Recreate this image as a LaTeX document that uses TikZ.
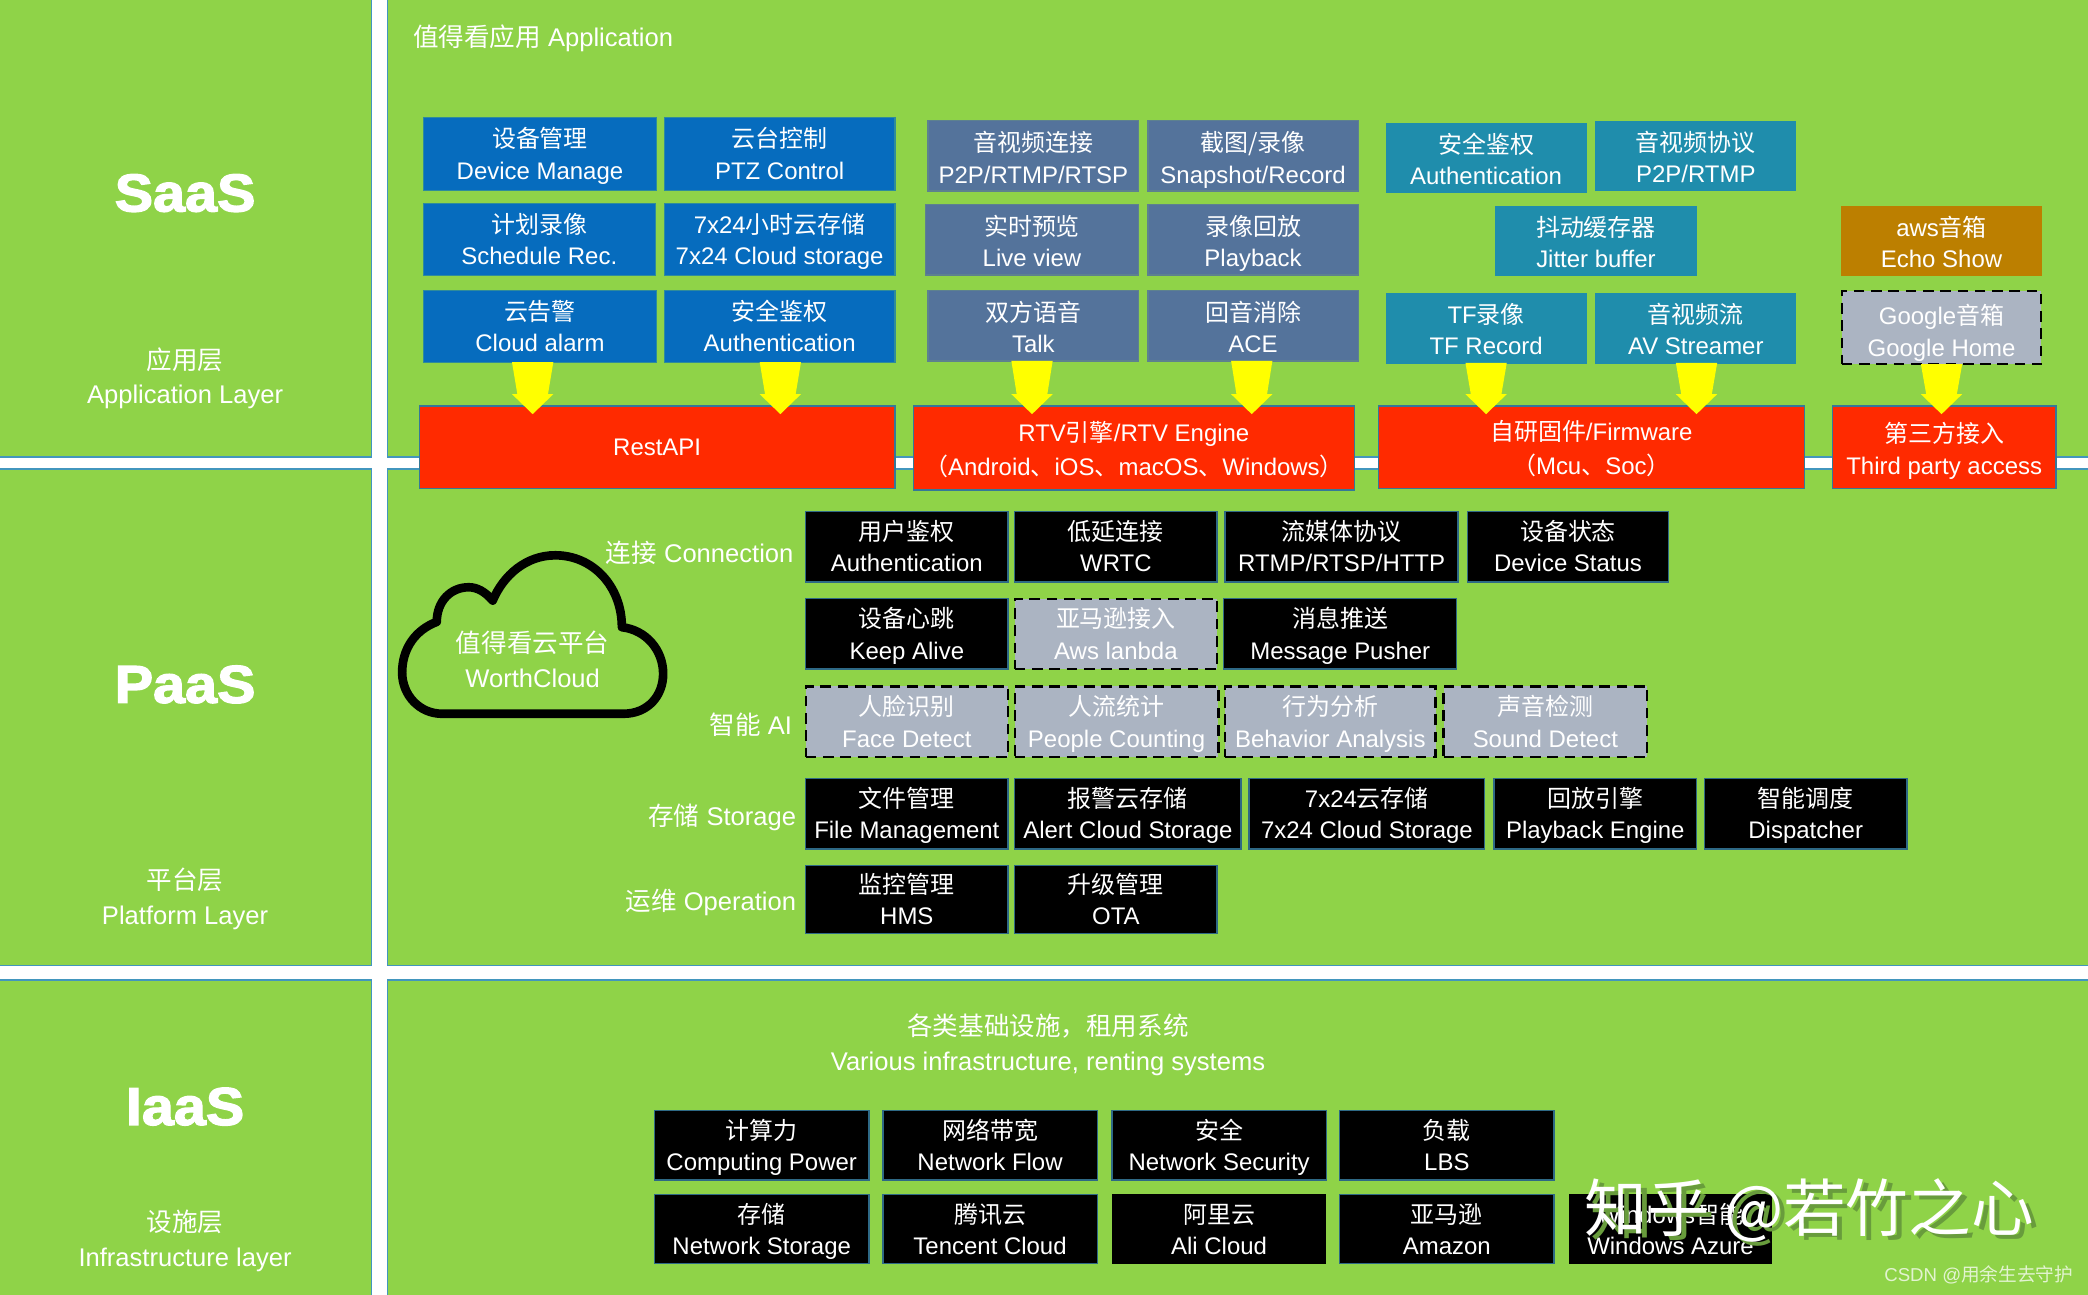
\documentclass[tikz,border=0pt]{standalone}
\usepackage{fontspec}
\setmainfont{Liberation Sans}
\newfontfamily\cjk{Noto Sans CJK SC}
\newfontfamily\heavyfont[UprightFont=* Bold,FakeBold=2.5,FakeStretch=1.08]{Liberation Sans}
\usetikzlibrary{calc}
\definecolor{panelgreen}{RGB}{143,211,72}
\definecolor{panelline}{RGB}{66,150,190}
\definecolor{tileblue}{RGB}{6,108,190}
\definecolor{tileslate}{RGB}{84,115,155}
\definecolor{tileteal}{RGB}{31,141,172}
\definecolor{tileorange}{RGB}{188,127,0}
\definecolor{tilegrey}{RGB}{171,180,194}
\definecolor{tilered}{RGB}{255,42,0}
\definecolor{flowyellow}{RGB}{255,255,0}
\definecolor{markshadow}{RGB}{104,156,60}
\begin{document}
\begin{tikzpicture}[x=1pt,y=-1pt,
panel/.style={fill=panelgreen,draw=panelline,line width=1.2pt},
tile size/.style 2 args={minimum width=#1pt,minimum height=#2pt},
tile node/.style={inner sep=0pt,outer sep=0pt,align=center,text=white,line width=1pt,font=\fontsize{18}{23.5}\selectfont,text height=44pt,text depth=6pt},
blue node/.style={tile node,fill=tileblue,draw=tileblue!70!panelgreen},
slate node/.style={tile node,fill=tileslate,draw=tileslate!85!panelgreen,text height=47pt},
teal node/.style={tile node,fill=tileteal,draw=tileteal,text height=46pt},
orange node/.style={tile node,fill=tileorange,draw=tileorange,text height=46pt},
red node/.style={tile node,fill=tilered,draw=panelline!80!black,font=\fontsize{18}{25.5}\selectfont,text height=47pt,text depth=6pt},
black node/.style={tile node,fill=black,draw=panelline!70!black},
plain node/.style={tile node,fill=black},
dash node/.style={tile node,fill=tilegrey,draw=black,line width=1.6pt,dash pattern=on 8pt off 5pt},
caption node/.style={inner sep=0pt,text=white,align=center,font=\fontsize{19.2}{26}\selectfont},
layer node/.style={inner sep=0pt,text=white,font=\fontsize{40}{44}\selectfont\heavyfont},
flow/.style={draw=none,fill=flowyellow,to path={($(\tikztostart)+(-15.5,0)$) -- ($(\tikztostart)+(15.5,0)$) -- ($(\tikztotarget)+(11.5,-15)$) -- ($(\tikztotarget)+(15.5,-15)$) -- (\tikztotarget) -- ($(\tikztotarget)+(-15.5,-15)$) -- ($(\tikztotarget)+(-11.5,-15)$) -- cycle}}]
\clip (0,0) rectangle (1568,972);
\fill[white] (0,0) rectangle (1568,972);
\draw[panel] (-5,-5) rectangle (279,343);
\draw[panel] (-5,352) rectangle (279,725);
\draw[panel] (-5,736) rectangle (279,980);
\draw[panel] (291,-5) rectangle (1575,343);
\draw[panel] (291,352) rectangle (1575,725);
\draw[panel] (291,736) rectangle (1575,980);

\node[layer node] (saas) at (139,145) {SaaS};
\node[layer node] (paas) at (139,514) {PaaS};
\node[layer node] (iaas) at (139,831) {IaaS};
\node[caption node] (saasname) at (139,284) {{\cjk 应用层}\\Application Layer};
\node[caption node] (paasname) at (139,675) {{\cjk 平台层}\\Platform Layer};
\node[caption node] (iaasname) at (139,932) {{\cjk 设施层}\\Infrastructure layer};

\node[caption node,anchor=west] (apptitle) at (310,29) {{\cjk 值得看应用} Application};
\node[caption node,anchor=east] (connlabel) at (596,415.5) {{\cjk 连接} Connection};
\node[caption node,anchor=east] (ailabel) at (595,544) {{\cjk 智能} AI};
\node[caption node,anchor=east] (storelabel) at (598,614) {{\cjk 存储} Storage};
\node[caption node,anchor=east] (oplabel) at (598,678) {{\cjk 运维} Operation};
\node[caption node] (infratitle) at (787,784.5) {{\cjk 各类基础设施，租用系统}\\Various infrastructure, renting systems};

\begin{scope}[every node/.append style={tile size={175}{55}}]
\node[blue node] (device) at (405.5,115.5) {{\cjk 设备管理}\\Device Manage};
\node[blue node,tile size={173}{55}] (ptz) at (585.5,115.5) {{\cjk 云台控制}\\PTZ Control};
\node[blue node,tile size={174}{54}] (plan) at (405,180) {{\cjk 计划录像}\\Schedule Rec.};
\node[blue node,tile size={173}{54}] (cloudstore) at (585.5,180) {7x24{\cjk 小时云存储}\\7x24 Cloud storage};
\node[blue node,tile size={175}{54}] (alarm) at (405.5,245) {{\cjk 云告警}\\Cloud alarm};
\node[blue node,tile size={173}{54}] (appauth) at (585.5,245) {{\cjk 安全鉴权}\\Authentication};
\end{scope}

\begin{scope}[every node/.append style={tile size={158}{52}}]
\node[slate node] (avconn) at (776,117) {{\cjk 音视频连接}\\P2P/RTMP/RTSP};
\node[slate node] (snap) at (941,117) {{\cjk 截图/录像}\\Snapshot/Record};
\node[slate node,tile size={160}{52}] (live) at (775,180) {{\cjk 实时预览}\\Live view};
\node[slate node] (playback) at (941,180) {{\cjk 录像回放}\\Playback};
\node[slate node] (talk) at (776,244.5) {{\cjk 双方语音}\\Talk};
\node[slate node] (ace) at (941,244.5) {{\cjk 回音消除}\\ACE};
\end{scope}

\begin{scope}[every node/.append style={tile size={150}{52}}]
\node[teal node] (fwauth) at (1116,118.5) {{\cjk 安全鉴权}\\Authentication};
\node[teal node] (proto) at (1273.5,117) {{\cjk 音视频协议}\\P2P/RTMP};
\node[teal node] (jitter) at (1198.5,181) {{\cjk 抖动缓存器}\\Jitter buffer};
\node[teal node] (tfcard) at (1116,246.5) {TF{\cjk 录像}\\TF Record};
\node[teal node] (avstream) at (1273.5,246.5) {{\cjk 音视频流}\\AV Streamer};
\node[orange node] (echo) at (1458,181) {aws{\cjk 音箱}\\Echo Show};
\node[dash node,text height=49pt] (ghome) at (1458,246) {Google{\cjk 音箱}\\Google Home};
\end{scope}

\node[red node,tile size={357}{62},text height=12pt,text depth=0pt] (rest) at (493.5,336) {RestAPI};
\node[red node,tile size={331}{63}] (rtv) at (851.5,336.5) {RTV{\cjk 引擎}/RTV Engine\\{\cjk （}Android{\cjk 、}iOS{\cjk 、}macOS{\cjk 、}Windows{\cjk ）}};
\node[red node,tile size={320}{62}] (firmware) at (1195,336) {{\cjk 自研固件}/Firmware\\{\cjk （}Mcu{\cjk 、}Soc{\cjk ）}};
\node[red node,tile size={168}{62},font=\fontsize{18}{24}\selectfont,text height=46pt] (third) at (1460,336) {{\cjk 第三方接入}\\Third party access};

\begin{scope}[every node/.append style={tile size={152}{53}}]
\node[black node] (userauth) at (681,410.5) {{\cjk 用户鉴权}\\Authentication};
\node[black node] (wrtc) at (838,410.5) {{\cjk 低延连接}\\WRTC};
\node[black node,tile size={175}{53}] (stream) at (1007.5,410.5) {{\cjk 流媒体协议}\\RTMP/RTSP/HTTP};
\node[black node,tile size={151}{53}] (status) at (1177.5,410.5) {{\cjk 设备状态}\\Device Status};
\node[black node] (keep) at (681,476) {{\cjk 设备心跳}\\Keep Alive};
\node[dash node] (lanbda) at (838,476) {{\cjk 亚马逊接入}\\Aws lanbda};
\node[black node,tile size={175}{53}] (pusher) at (1006.5,476) {{\cjk 消息推送}\\Message Pusher};
\node[dash node] (face) at (681,542) {{\cjk 人脸识别}\\Face Detect};
\node[dash node,tile size={153}{53}] (people) at (838.5,542) {{\cjk 人流统计}\\People Counting};
\node[dash node,tile size={158}{53}] (behavior) at (999,542) {{\cjk 行为分析}\\Behavior Analysis};
\node[dash node,tile size={153}{53}] (sound) at (1160.5,542) {{\cjk 声音检测}\\Sound Detect};
\node[black node] (file) at (681,611) {{\cjk 文件管理}\\File Management};
\node[black node,tile size={170}{53}] (alert) at (847,611) {{\cjk 报警云存储}\\Alert Cloud Storage};
\node[black node,tile size={177}{53}] (fullday) at (1026.5,611) {7x24{\cjk 云存储}\\7x24 Cloud Storage};
\node[black node] (engine) at (1198,611) {{\cjk 回放引擎}\\Playback Engine};
\node[black node] (dispatch) at (1356,611) {{\cjk 智能调度}\\Dispatcher};
\node[black node,tile size={152}{51}] (hms) at (681,675.5) {{\cjk 监控管理}\\HMS};
\node[black node,tile size={152}{51}] (ota) at (838,675.5) {{\cjk 升级管理}\\OTA};
\end{scope}

\begin{scope}[every node/.append style={tile size={161}{52}}]
\node[black node] (compute) at (572,860) {{\cjk 计算力}\\Computing Power};
\node[black node] (flowrate) at (743.5,860) {{\cjk 网络带宽}\\Network Flow};
\node[black node] (security) at (915.5,860) {{\cjk 安全}\\Network Security};
\node[black node] (lbs) at (1086.5,860) {{\cjk 负载}\\LBS};
\node[black node] (netstore) at (572,923) {{\cjk 存储}\\Network Storage};
\node[black node] (tencent) at (743.5,923) {{\cjk 腾讯云}\\Tencent Cloud};
\node[plain node] (ali) at (915.5,923) {{\cjk 阿里云}\\Ali Cloud};
\node[black node] (amazon) at (1086.5,923) {{\cjk 亚马逊}\\Amazon};
\node[plain node,tile size={152}{53}] (azure) at (1254.5,923) {Windows{\cjk 智能}\\Windows Azure};
\end{scope}

\draw[line width=6.5pt,line join=round] (332,536) -- (468,536)
  .. controls (487,536) and (498,522) .. (498,506)
  .. controls (498,488) and (485,473) .. (467,471)
  .. controls (467,440) and (445,417) .. (417,417)
  .. controls (395,417) and (378,432) .. (370,451)
  .. controls (364,444) and (358,441) .. (352,441)
  .. controls (338,441) and (328,452) .. (328,467)
  .. controls (312,473) and (302,487) .. (302,505)
  .. controls (302,522) and (315,536) .. (332,536) -- cycle;
\node[caption node] (platform) at (400,495) {{\cjk 值得看云平台}\\WorthCloud};

\foreach \src/\dx/\dst in {alarm/-5.5/rest,appauth/0.5/rest,talk/-1/rtv,ace/-1/rtv,tfcard/0/firmware,avstream/0.5/firmware,ghome/0/third} {
  \coordinate (flowstart) at ([xshift=\dx pt]\src.south);
  \coordinate (flowend) at ([yshift=-6pt]flowstart |- \dst.north);
  \draw[flow] (flowstart) to (flowend);
}

\node[inner sep=0pt,text=markshadow,font=\fontsize{47}{50}\selectfont\cjk,anchor=west] (markback) at (1194,912) {知乎 @若竹之心};
\node[inner sep=0pt,text=white,font=\fontsize{47}{50}\selectfont\cjk,anchor=west] (mark) at (1190,909) {知乎 @若竹之心};
\node[inner sep=0pt,text=white,opacity=.75,font=\fontsize{14}{16}\selectfont,anchor=east] (csdn) at (1557,957) {CSDN @{\cjk 用余生去守护}};
\end{tikzpicture}
\end{document}
